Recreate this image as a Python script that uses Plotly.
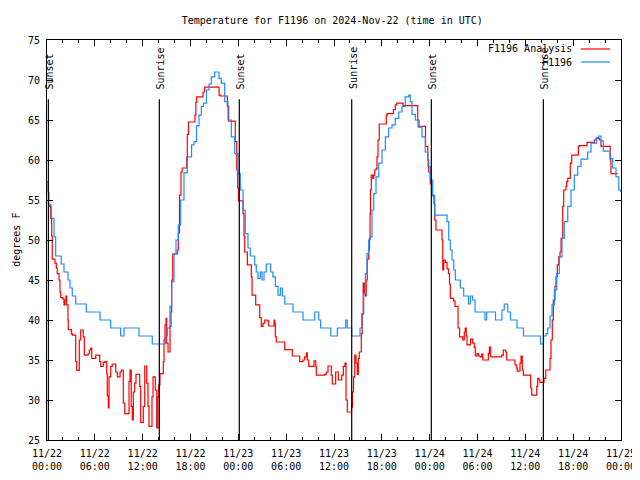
import pandas as pd
import plotly.graph_objects as go

BASE = "2024-11-22 00:00"
TITLE = "Temperature for F1196 on 2024-Nov-22 (time in UTC)"

# Observed station temperature (F1196): hours after BASE, degrees F
obs_hours = [
    0.00, 0.13, 0.25, 0.54, 0.88, 1.09, 1.79, 2.13, 2.63, 2.89,
    3.17, 3.60, 4.93, 6.65, 7.99, 9.24, 9.66, 11.54, 13.21, 14.89,
    15.09, 15.43, 15.64, 15.93, 16.18, 16.47, 16.77, 17.18, 17.60, 18.13,
    18.44, 18.75, 19.07, 19.36, 19.63, 20.01, 20.32, 20.61, 21.04, 21.57,
    21.86, 22.29, 22.70, 23.12, 23.54, 23.96, 24.25, 24.59, 24.87, 25.21,
    25.50, 26.05, 26.25, 26.47, 26.76, 26.97, 27.22, 27.51, 28.06, 28.35,
    28.64, 28.98, 29.27, 29.52, 29.82, 30.86, 32.11, 33.58, 34.08, 34.33,
    35.59, 36.42, 37.47, 37.67, 38.22, 39.26, 39.48, 39.73, 39.93, 40.14,
    40.35, 40.55, 40.77, 40.98, 41.27, 41.61, 42.02, 42.44, 42.86, 43.28,
    43.69, 44.12, 44.53, 44.94, 45.37, 45.57, 45.78, 46.20, 46.54, 47.04,
    47.45, 47.79, 48.08, 48.38, 48.63, 50.18, 50.39, 50.59, 50.80, 51.02,
    51.22, 51.84, 52.27, 52.87, 53.10, 53.37, 53.69, 54.94, 55.15, 56.26,
    57.07, 57.36, 57.79, 58.14, 58.96, 59.77, 61.90, 62.28, 62.59, 62.81,
    63.10, 63.35, 63.64, 63.94, 64.26, 64.60, 64.89, 65.32, 65.73, 66.14,
    66.57, 66.98, 67.82, 68.24, 68.95, 69.20, 69.49, 69.78, 70.62, 70.96,
    71.37, 71.71, 71.94,
]
obs_temps = [
    57.3, 56, 54.2, 52.7, 50.4, 48, 47, 46, 45, 44,
    43, 42, 41, 40, 39, 38, 39, 38, 37, 38,
    39, 41.7, 44.8, 48.3, 50, 51.9, 55, 58.4, 60.4, 61.9,
    62.3, 64.3, 65.6, 66.7, 67.1, 68.75, 69.5, 70.4, 71, 70.2,
    69.6, 67.3, 65, 62.9, 60.8, 58.3, 56.25, 53.75, 50.8, 49,
    48, 46.9, 46, 45.2, 46, 45, 46, 47, 46, 45.4,
    44.2, 43.1, 44, 43, 42, 41, 40, 41, 40, 39,
    38, 39, 40, 39, 38, 39, 40.8, 43.3, 45.8, 48.3,
    50, 50.4, 53.75, 55.8, 57.9, 59.6, 61.25, 62.9, 64, 64.4,
    65.2, 66, 66.7, 67.9, 68.1, 67.3, 65.7, 65, 64.1, 62.9,
    61, 59.2, 57.5, 55.6, 53.1, 52.3, 50, 48.75, 47.5, 46.25,
    45, 44, 43, 42, 43, 42.5, 41, 40, 41, 40,
    41.25, 42, 41, 40, 39, 38, 37, 38, 38.3, 39,
    40.5, 41.9, 43.75, 45.8, 47.9, 50.2, 52.3, 54.2, 56.25, 58.1,
    59.2, 60.1, 61, 62.1, 62.8, 63, 62.4, 61.1, 60.2, 59,
    57.9, 56.25, 56,
]

# Analysis temperature (F1196 Analysis): hours after BASE, degrees F
ana_hours = [
    0.13, 0.46, 0.59, 0.66, 1.00, 1.17, 1.29, 1.51, 1.63, 1.72,
    2.01, 2.13, 2.26, 2.38, 2.47, 2.63, 2.67, 3.05, 3.17, 3.60,
    3.73, 4.05, 4.23, 4.55, 4.68, 5.14, 5.31, 5.48, 5.61, 6.11,
    6.61, 6.74, 7.06, 7.28, 7.49, 7.56, 7.69, 7.78, 7.99, 8.19,
    8.62, 8.82, 9.16, 9.32, 9.57, 9.75, 10.29, 10.41, 10.57, 10.70,
    10.83, 11.00, 11.16, 11.63, 11.75, 12.08, 12.26, 12.51, 12.67, 12.79,
    13.17, 13.30, 13.58, 13.76, 13.92, 14.01, 14.17, 14.59, 14.68, 14.80,
    14.93, 15.01, 15.18, 15.43, 15.55, 15.64, 15.77, 16.34, 16.47, 16.62,
    16.81, 16.97, 17.52, 17.60, 17.75, 18.56, 18.67, 18.78, 19.57, 19.78,
    21.58, 21.74, 22.62, 22.79, 23.62, 23.80, 23.92, 24.02, 24.59, 24.71,
    24.80, 25.13, 25.63, 25.72, 26.18, 26.68, 26.88, 27.10, 27.31, 27.60,
    27.81, 28.48, 28.56, 28.64, 28.76, 29.82, 30.77, 31.70, 32.11, 32.32,
    32.53, 32.65, 32.83, 33.49, 33.71, 33.78, 34.83, 35.03, 35.25, 35.66,
    35.79, 36.21, 36.54, 36.97, 37.17, 37.38, 37.51, 37.67, 38.20, 38.32,
    38.45, 38.60, 38.76, 38.92, 39.05, 39.17, 39.42, 39.54, 39.66, 39.81,
    39.93, 40.04, 40.17, 40.35, 40.45, 40.52, 40.58, 40.68, 40.86, 40.98,
    41.11, 41.27, 41.39, 41.52, 41.68, 42.56, 42.67, 43.46, 43.69, 43.87,
    44.66, 46.50, 46.66, 47.48, 47.76, 47.88, 48.08, 48.29, 48.54, 48.64,
    48.79, 49.55, 49.64, 49.76, 49.96, 50.18, 50.36, 50.49, 50.59, 50.99,
    51.18, 51.56, 51.75, 52.15, 52.34, 52.46, 52.59, 52.69, 53.13, 53.40,
    53.59, 53.72, 53.94, 54.13, 54.32, 54.53, 54.66, 55.36, 55.49, 55.66,
    57.04, 57.24, 57.54, 57.66, 58.70, 58.92, 58.99, 59.33, 59.46, 59.62,
    59.75, 60.67, 60.80, 61.43, 61.55, 61.72, 61.84, 62.34, 62.56, 63.10,
    63.22, 63.38, 63.51, 63.72, 63.85, 64.01, 64.19, 64.35, 64.48, 64.69,
    64.81, 65.10, 65.19, 65.32, 65.64, 65.82, 66.65, 66.77, 67.74, 68.65,
    68.87, 69.28, 69.49, 70.65, 70.74, 71.58,
]
ana_temps = [
    54.4, 52.7, 50.5, 47.6, 47.1, 46.5, 45.8, 45, 43.5, 42.8,
    42.6, 41.9, 42.5, 43, 41.9, 40, 38.8, 38.3, 38.1, 34.8,
    33.7, 37.5, 38.75, 37.9, 35.6, 35.75, 36.25, 36.5, 35.2, 35.6,
    34.8, 34.2, 34.7, 34.8, 33.3, 30.5, 29, 32.9, 34.2, 34.5,
    33.5, 32.9, 33.5, 33.75, 29.6, 28.3, 32.3, 33.75, 29.2, 27.5,
    31, 32.1, 33.2, 31.7, 27.2, 29.2, 34.25, 32.1, 29.2, 26.7,
    30.4, 32.9, 31.25, 26.5, 30.4, 31.9, 33.3, 34.8, 37.5, 39.4,
    40.2, 37.1, 36, 39.2, 41, 45, 48.25, 48.75, 50.9, 55.6,
    58.5, 59, 60.4, 63.2, 64.75, 65.6, 67.2, 67.9, 68.5, 69.1,
    68.1, 68, 66.7, 64.85, 62.3, 58.75, 56.5, 54.9, 53.3, 50.5,
    48.5, 46.9, 45.4, 43.1, 41.9, 40.3, 39.2, 39.6, 40, 39.9,
    39.25, 40, 39.6, 37.9, 37.25, 36.3, 35.5, 34.8, 35, 35.4,
    35.9, 35, 34.2, 34.9, 34.2, 33.1, 33.2, 33.5, 34.25, 33.1,
    32, 33.5, 32.5, 33.1, 34.2, 34.6, 30, 28.5, 29.1, 31,
    32.9, 35.6, 34.6, 33.2, 35.2, 36, 38.3, 40.7, 44.6, 43.3,
    43, 45, 47.6, 48.75, 50.2, 53.3, 56.25, 58.1, 57.7, 58.1,
    58.75, 58.9, 60.4, 62.5, 64.5, 65.6, 65.8, 66.3, 66.9, 67.1,
    66.8, 65, 64.2, 61.7, 60, 58.5, 57, 55.5, 54.5, 52.5,
    51.25, 50, 46.25, 47.5, 47.2, 46.4, 45.8, 44.5, 42.7, 42.4,
    41.7, 39, 37.9, 37.5, 38.5, 39, 38, 36.9, 37.6, 37.1,
    36.6, 35.5, 35.8, 35.5, 35.4, 35.75, 35, 35.8, 36.6, 35.4,
    35.6, 36.25, 36, 35, 34.4, 34, 33.6, 34.6, 35.5, 33.75,
    33.1, 31.5, 30.6, 31.7, 32.7, 32.5, 32.2, 32.7, 33.75, 35.2,
    37.5, 40, 42.5, 44.2, 45.4, 46.9, 47.9, 48.5, 50.2, 54.2,
    56.25, 56.7, 57.3, 57.7, 59.6, 60.6, 61.7, 61.8, 62.2, 62.5,
    62.7, 62.5, 61.7, 60, 58.3, 58.3,
]
assert len(obs_hours) == len(obs_temps)
assert len(ana_hours) == len(ana_temps)

# Sun events (hours after BASE)
sun_hours = [0.17, 14.09, 24.12, 38.22, 48.21, 62.26]
sun_labels = ["Sunset", "Sunrise", "Sunset", "Sunrise", "Sunset", "Sunrise"]

base = pd.Timestamp(BASE)
to_time = lambda hrs: [base + pd.Timedelta(hours=h) for h in hrs]

FONT = "DejaVu Sans Mono"

fig = go.Figure()
fig.add_trace(go.Scatter(x=to_time(ana_hours), y=ana_temps, mode="lines",
                         line=dict(color="#ff0000", width=1.2, shape="hv"),
                         name="F1196 Analysis", showlegend=False))
fig.add_trace(go.Scatter(x=to_time(obs_hours), y=obs_temps, mode="lines",
                         line=dict(color="#1e8cff", width=1.2, shape="hv"),
                         name="F1196", showlegend=False))

for t, lab in zip(to_time(sun_hours), sun_labels):
    fig.add_shape(type="line", xref="x", yref="y", x0=t, x1=t, y0=25, y1=67.6,
                  line=dict(color="black", width=1.2))
    fig.add_annotation(x=t, y=68.6, xref="x", yref="y", text=lab, textangle=-90,
                       showarrow=False, xanchor="center", yanchor="bottom", xshift=1,
                       font=dict(family=FONT, size=10, color="black"))

# legend (gnuplot style: text then sample)
leg_items = [("F1196 Analysis", "#ff0000", 0.9775), ("F1196", "#1e8cff", 0.945)]
for text, col, yp in leg_items:
    fig.add_annotation(x=0.918, y=yp, xref="paper", yref="paper", text=text,
                       showarrow=False, xanchor="right", yanchor="middle",
                       font=dict(family=FONT, size=10, color="black"))
    fig.add_shape(type="line", xref="paper", yref="paper", x0=0.930, x1=0.981,
                  y0=yp, y1=yp, line=dict(color=col, width=1.2))

fig.add_annotation(x=-0.0675, y=0.5, xref="paper", yref="paper", text="degrees F",
                   textangle=-90, showarrow=False, xanchor="left", yanchor="middle",
                   font=dict(family=FONT, size=10, color="black"))

tick_times = pd.date_range(base, periods=13, freq="6h")
tick_text = [t.strftime("%m/%d") + "<br>" + t.strftime("%H:%M") for t in tick_times]

# page body has an 8px margin, so the figure is sized 632x472 to fill 640x480
fig.update_layout(
    width=632, height=472,
    margin=dict(l=39, r=19, t=32, b=40),
    paper_bgcolor="white", plot_bgcolor="white",
    font=dict(family=FONT, size=10, color="black"),
    title=dict(text=TITLE, x=0.497, xref="paper", xanchor="center",
               y=1 - 12 / 472, yanchor="middle", yref="container",
               font=dict(family=FONT, size=10, color="black")),
    showlegend=False,
)
fig.update_xaxes(
    range=[base, base + pd.Timedelta(hours=72)],
    tickvals=tick_times, ticktext=tick_text, automargin=False,
    ticks="inside", ticklen=6, tickcolor="black", tickwidth=1,
    minor=dict(dtick=2 * 3600 * 1000, ticks="inside", ticklen=3, tickcolor="black"),
    showline=True, linecolor="black", linewidth=1, mirror="ticks",
    showgrid=False, zeroline=False, ticklabelstandoff=4,
    tickfont=dict(family=FONT, size=10, color="black"),
)
fig.update_yaxes(
    range=[25, 75], dtick=5, tick0=25, automargin=False,
    ticks="inside", ticklen=6, tickcolor="black", tickwidth=1,
    showline=True, linecolor="black", linewidth=1, mirror="ticks",
    showgrid=False, zeroline=False, ticklabelstandoff=4,
    tickfont=dict(family=FONT, size=10, color="black"),
)

fig.write_html("out.html")
